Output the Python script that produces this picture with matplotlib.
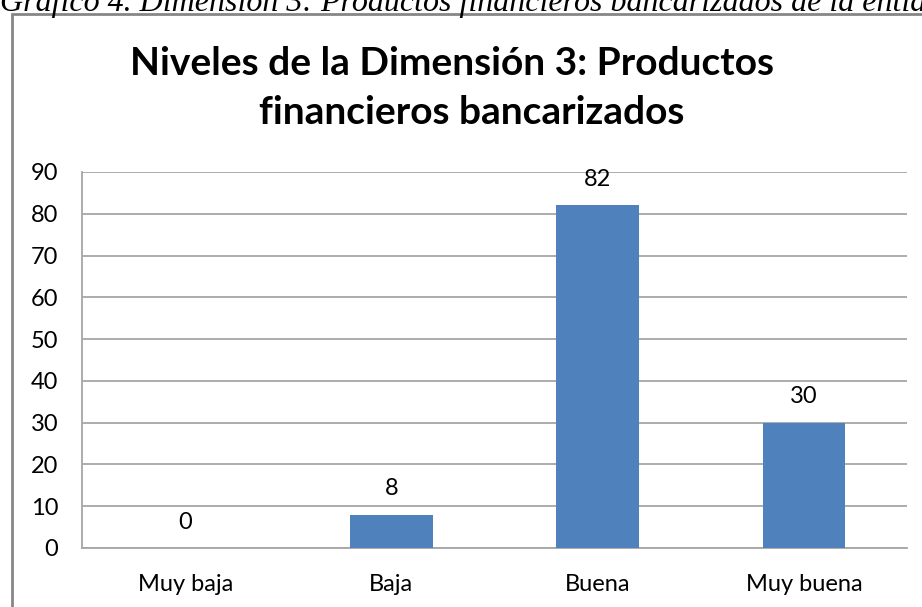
import matplotlib.pyplot as plt
from matplotlib.patches import Rectangle

# datos
categorias = ["Muy baja", "Baja", "Buena", "Muy buena"]
valores = [0, 8, 82, 30]
yticks = list(range(0, 100, 10))

AZUL = "#4f81bd"
GRIS = "#a6a6a6"
FUENTE = ["Lato", "DejaVu Sans"]

fig = plt.figure(figsize=(9.22, 6.07), dpi=100)
W, H = 922, 607

# encabezado cortado del documento
fig.text(0.0, 1 - 11 / H,
         "Gráfico 4. Dimensión 3: Productos financieros bancarizados de la entidad",
         fontfamily="Liberation Serif", fontstyle="italic", fontsize=23,
         ha="left", va="baseline", color="black")

# marco del gráfico
fig.patches.append(Rectangle((12 / W, -0.1), 1.2, 1 - 14 / H + 0.1,
                             transform=fig.transFigure, fill=False,
                             edgecolor="#868686", linewidth=2, zorder=0))

ax = fig.add_axes([82 / W, 1 - 548 / H, (907 - 82) / W, (548 - 172) / H])
x = range(len(categorias))
bars = ax.bar(x, valores, width=0.4, color=AZUL, zorder=3)
ax.bar_label(bars, labels=[str(v) for v in valores], padding=11,
             fontsize=17, fontfamily=FUENTE)

ax.set_xlim(-0.5, 3.5)
ax.set_ylim(0, 90)
ax.set_yticks(yticks)
ax.set_xticks(list(x))
ax.set_xticklabels(categorias)
ax.tick_params(axis="both", length=0, labelsize=17)
ax.tick_params(axis="x", pad=19)
ax.tick_params(axis="y", pad=17)
for lab in ax.get_xticklabels() + ax.get_yticklabels():
    lab.set_fontfamily(FUENTE)

ax.grid(axis="y", color=GRIS, linewidth=1.3, zorder=0)
ax.set_axisbelow(True)
for s in ["top", "right"]:
    ax.spines[s].set_visible(False)
for s in ["left", "bottom"]:
    ax.spines[s].set_color(GRIS)
    ax.spines[s].set_linewidth(1.3)

fig.text(452 / W, 1 - 75 / H, "Niveles de la Dimensión 3: Productos",
         fontfamily=FUENTE, fontweight="bold", fontsize=28,
         ha="center", va="baseline")
fig.text(472 / W, 1 - 124 / H, "financieros bancarizados",
         fontfamily=FUENTE, fontweight="bold", fontsize=28,
         ha="center", va="baseline")

fig.savefig("out.png", dpi=100)
